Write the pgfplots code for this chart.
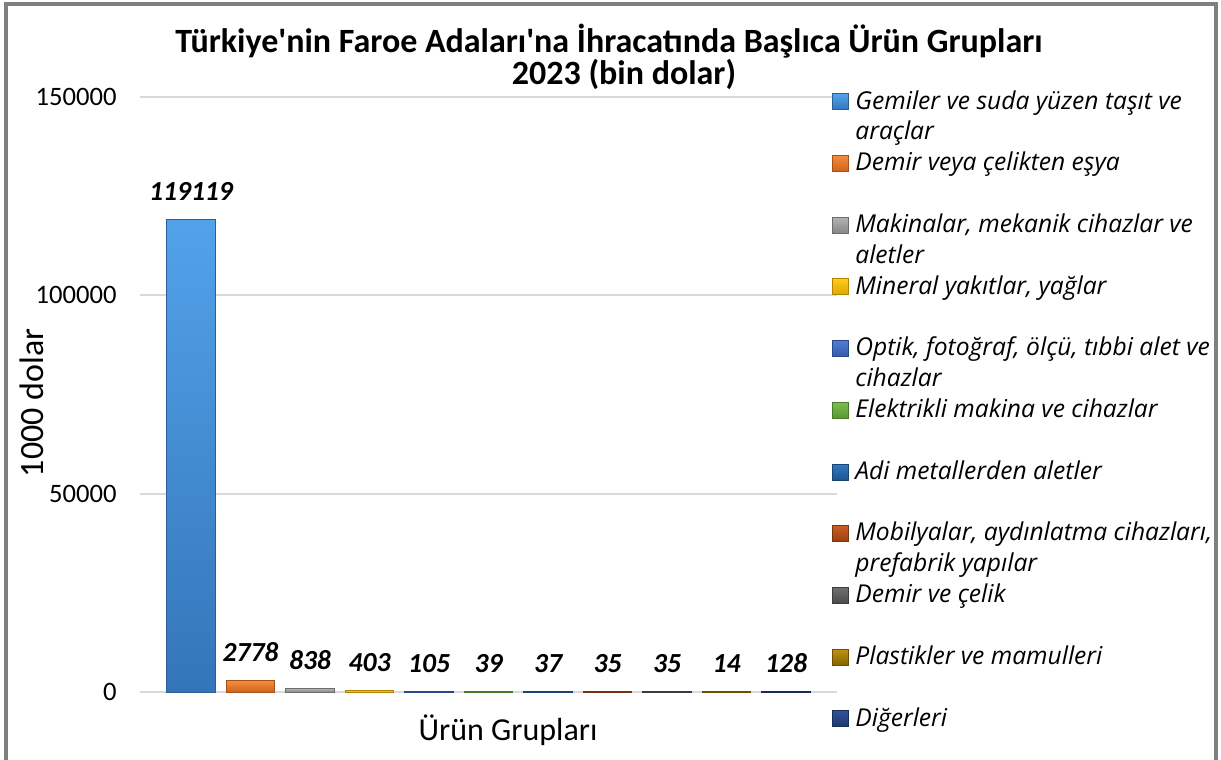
\documentclass[border=0pt]{standalone}
\usepackage{fontspec}
\setmainfont{Carlito}[Ligatures=TeXOff]
\newfontfamily\osfont{Open Sans}
\usepackage{pgfplots}
\pgfplotsset{compat=1.18}

% bar colours: top / bottom of the shading
\definecolor{aT}{RGB}{82,162,234}  \definecolor{aB}{RGB}{52,117,185}
\definecolor{bT}{RGB}{245,140,60}  \definecolor{bB}{RGB}{205,100,30}
\definecolor{cT}{RGB}{178,178,178} \definecolor{cB}{RGB}{135,135,135}
\definecolor{dT}{RGB}{255,202,30}  \definecolor{dB}{RGB}{222,165,0}
\definecolor{eT}{RGB}{80,125,210}  \definecolor{eB}{RGB}{50,90,170}
\definecolor{fT}{RGB}{125,190,80}  \definecolor{fB}{RGB}{90,150,50}
\definecolor{gT}{RGB}{50,120,192}  \definecolor{gB}{RGB}{30,85,145}
\definecolor{hT}{RGB}{205,92,35}   \definecolor{hB}{RGB}{150,65,20}
\definecolor{iT}{RGB}{112,112,112} \definecolor{iB}{RGB}{75,75,75}
\definecolor{jT}{RGB}{192,146,20}  \definecolor{jB}{RGB}{135,100,0}
\definecolor{kT}{RGB}{48,82,152}   \definecolor{kB}{RGB}{30,55,110}
\definecolor{gridc}{RGB}{217,217,217}
\definecolor{framec}{RGB}{128,128,128}

\newcommand{\lgstrut}{\rule[-4.4pt]{0pt}{15.425pt}}
\newcommand{\lgtext}[2]{\parbox[t]{200pt}{\osfont\itshape\fontsize{12.3}{15.425}\selectfont\lgstrut #1\\\lgstrut #2}}

\pgfplotsset{
  sbar/.style 2 args={ybar, bar width=0.82, bar shift=0pt,
    top color=#1, bottom color=#2, draw=#2!80!black, line width=0.5pt},
}

\begin{document}
\begin{tikzpicture}
\begin{axis}[
  at={(70pt,-346pt)}, anchor=south west,
  scale only axis, width=348.5pt, height=297.5pt,
  xmin=-0.857, xmax=10.857,
  ymin=0, ymax=150000,
  ytick={0,50000,100000,150000},
  xtick=\empty,
  scaled y ticks=false,
  /pgf/number format/.cd, fixed, 1000 sep={}, assume math mode=true, /pgfplots/.cd,
  ymajorgrids, major grid style={gridc, line width=1pt},
  axis line style={draw=none},
  ytick style={draw=none},
  yticklabel style={font=\fontsize{13.3}{15}\selectfont, inner sep=0pt},
  yticklabel shift=11.5pt,
  ylabel={1000 dolar},
  ylabel style={at={(rel axis cs:-0.139,0.486)}, anchor=base, font=\fontsize{17}{20}\selectfont},
  xlabel={Ürün Grupları},
  xlabel style={at={(rel axis cs:0.528,-0.0807)}, anchor=base, font=\fontsize{16}{19}\selectfont},
  nodes near coords,
  every node near coord/.append style={font=\bfseries\itshape\fontsize{13.8}{16}\selectfont,
    anchor=base, yshift=9.5pt, inner sep=0pt, text=black},
  legend cell align=left,
  legend style={at={(rel axis cs:0.9928,1.0175)}, anchor=north west, draw=none, fill=none,
    inner sep=0pt, row sep=0pt, column sep=3pt,
    nodes={inner sep=0pt, text height=11.025pt, text depth=19.825pt}},
  legend image code/.code={\path[#1] (0pt,4pt) rectangle (8pt,12pt);},
]
\addplot[sbar={aT}{aB}] coordinates {(0,119119)};
\addlegendentry{\lgtext{Gemiler ve suda yüzen taşıt ve}{araçlar}}
\addplot[sbar={bT}{bB}] coordinates {(1,2778)};
\addlegendentry{\lgtext{Demir veya çelikten eşya}{}}
\addplot[sbar={cT}{cB}] coordinates {(2,838)};
\addlegendentry{\lgtext{Makinalar, mekanik cihazlar ve}{aletler}}
\addplot[sbar={dT}{dB}] coordinates {(3,403)};
\addlegendentry{\lgtext{Mineral yakıtlar, yağlar}{}}
\addplot[sbar={eT}{eB}] coordinates {(4,105)};
\addlegendentry{\lgtext{Optik, fotoğraf, ölçü, tıbbi alet ve}{cihazlar}}
\addplot[sbar={fT}{fB}] coordinates {(5,39)};
\addlegendentry{\lgtext{Elektrikli makina ve cihazlar}{}}
\addplot[sbar={gT}{gB}] coordinates {(6,37)};
\addlegendentry{\lgtext{Adi metallerden aletler}{}}
\addplot[sbar={hT}{hB}] coordinates {(7,35)};
\addlegendentry{\lgtext{Mobilyalar, aydınlatma cihazları,}{prefabrik yapılar}}
\addplot[sbar={iT}{iB}] coordinates {(8,35)};
\addlegendentry{\lgtext{Demir ve çelik}{}}
\addplot[sbar={jT}{jB}] coordinates {(9,14)};
\addlegendentry{\lgtext{Plastikler ve mamulleri}{}}
\addplot[sbar={kT}{kB}] coordinates {(10,128)};
\addlegendentry{\lgtext{Diğerleri}{}}
\end{axis}
\begin{scope}[x=0.5pt, y=-0.5pt]
  \node[anchor=base, inner sep=0pt, font=\bfseries\fontsize{17}{20}\selectfont] at (609,52)
    {Türkiye'nin Faroe Adaları'na İhracatında Başlıca Ürün Grupları};
  \node[anchor=base, inner sep=0pt, font=\bfseries\fontsize{17}{20}\selectfont] at (624,84)
    {2023 (bin dolar)};
  \draw[framec, line width=2pt] (6,4) rectangle (1216,790);
  \pgfresetboundingbox
  \useasboundingbox (0,0) rectangle (1221,760);
\end{scope}
\end{tikzpicture}
\end{document}
